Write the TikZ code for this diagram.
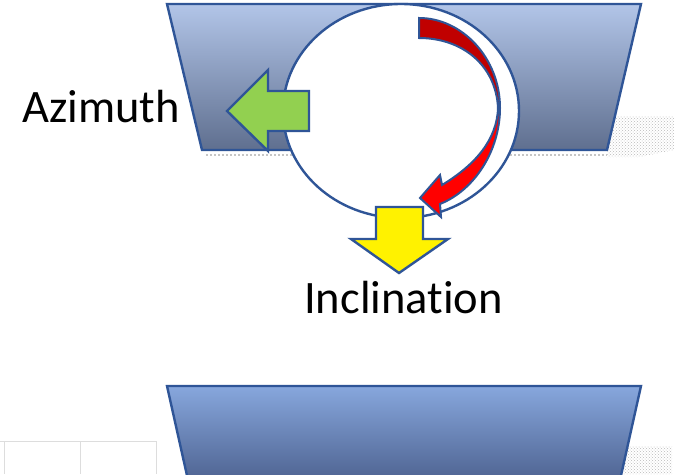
\documentclass[tikz,border=0pt]{standalone}
\usepackage{fontspec}
\setmainfont[Ligatures=NoCommon]{Carlito}
\usetikzlibrary{patterns}
\definecolor{edgeblue}{HTML}{2F5597}
\definecolor{topA}{HTML}{B2C5E8}
\definecolor{topB}{HTML}{5F6F8F}
\definecolor{botA}{HTML}{87A7DD}
\definecolor{botB}{HTML}{4F6492}
\definecolor{darkred}{HTML}{C00000}
\definecolor{brightred}{HTML}{FF0000}
\definecolor{leafgreen}{HTML}{92D050}
\definecolor{gridgray}{HTML}{DDDDDD}
\tikzset{
  outline/.style={draw=edgeblue, line width=2.4pt, line join=miter},
  shadowpatch/.style={pattern=crosshatch dots, pattern color=gray!55},
  label/.style={font=\fontsize{46.5}{56}\selectfont, inner sep=0pt, anchor=base west},
}
\begin{document}
\begin{tikzpicture}[x=1pt,y=-1pt]
\useasboundingbox (0,0) rectangle (674,474);
\clip (0,0) rectangle (674,474);
% background grid remnant bottom-left
\draw[gridgray, line width=1pt] (0,441) -- (156,441);
\draw[gridgray, line width=1pt] (4,441) -- (4,474);
\draw[gridgray, line width=1pt] (80,441) -- (80,474);
\draw[gridgray, line width=1pt] (156,441) -- (156,474);
% soft shadows
\fill[shadowpatch] (612,116) -- (674,116) -- (674,150) -- (640,157) -- (607,157) -- cycle;
\draw[gray!45, line width=2pt, dotted] (206,155) -- (607,155);
\fill[shadowpatch] (626,446) -- (672,446) -- (672,474) -- (620,474) -- cycle;
% top trapezoid
\shade[top color=topA, bottom color=topB] (167,4) -- (641,4) -- (607,150) -- (202,150) -- cycle;
\draw[outline] (167,4) -- (641,4) -- (607,150) -- (202,150) -- cycle;
% bottom trapezoid
\shade[top color=botA, bottom color=botB] (167,386) -- (641,386) -- (620,480) -- (188,480) -- cycle;
\draw[outline] (188,480) -- (167,386) -- (641,386) -- (620,480);
% circle
\draw[outline, fill=white] (401,111) ellipse [x radius=118, y radius=107];
% red curved arrow
\fill[darkred] (419,18) .. controls (462,18) and (500,58) .. (500,108)
  -- (498,108) .. controls (496,65) and (462,38) .. (419,38) -- cycle;
\fill[brightred] (500,108) .. controls (500,150) and (475,190) .. (440,204)
  -- (441,217) -- (420,198) -- (440,175) -- (442,185)
  .. controls (475,165) and (497,140) .. (498,108) -- cycle;
\draw[outline, line width=2pt] (419,18) .. controls (462,18) and (500,58) .. (500,108)
  .. controls (500,150) and (475,190) .. (440,204)
  -- (441,217) -- (420,198) -- (440,175) -- (442,185)
  .. controls (475,165) and (497,140) .. (498,108)
  .. controls (496,65) and (462,38) .. (419,38) -- cycle;
% green arrow (azimuth)
\draw[outline, fill=leafgreen] (227,111) -- (268,70) -- (268,91) -- (309,91) -- (309,131) -- (268,131) -- (268,151) -- cycle;
% yellow arrow (inclination)
\draw[outline, fill=yellow] (376,207) -- (423,207) -- (423,239) -- (448,239) -- (399,273) -- (351,239) -- (376,239) -- cycle;
% labels
\node[label] (azimuth) at (22,122) {Azimuth};
\node[label] (inclination) at (304,313) {Inclination};
\end{tikzpicture}
\end{document}
